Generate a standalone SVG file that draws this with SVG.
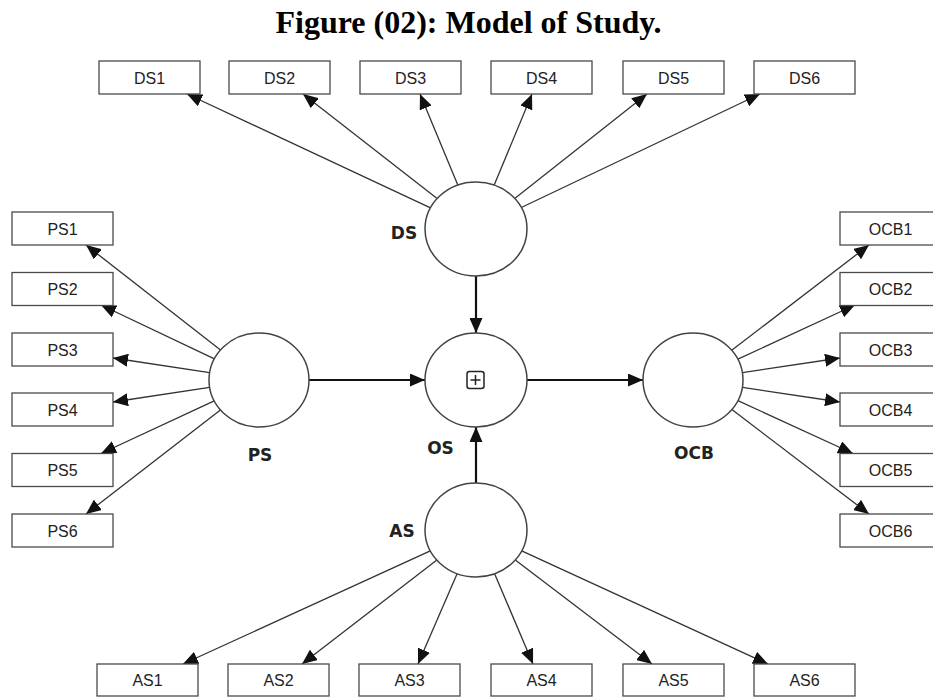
<svg xmlns="http://www.w3.org/2000/svg" width="933" height="697" viewBox="0 0 933 697">
<style>
.box{fill:#fff;stroke:#4a4a4a;stroke-width:1.3}
.bt{font-family:"Liberation Sans",Arial,sans-serif;font-size:16px;fill:#222;text-anchor:middle}
.lv{fill:#fff;stroke:#444;stroke-width:1.5}
.lt{font-family:"DejaVu Sans",sans-serif;font-weight:bold;font-size:17px;fill:#222;text-anchor:middle}
.ln{stroke:#333;stroke-width:1.3;fill:none;marker-end:url(#ah)}
.main{stroke:#111;stroke-width:2.2;fill:none;marker-end:url(#ah)}
</style>
<defs>
<marker id="ah" markerWidth="15" markerHeight="13" refX="15" refY="6.5" orient="auto" markerUnits="userSpaceOnUse"><path d="M0,0 L15,6.5 L0,13 z" fill="#111"/></marker>
</defs>
<rect width="933" height="697" fill="#fff"/>
<text x="468.5" y="33" font-family="Liberation Serif,'Times New Roman',serif" font-weight="bold" font-size="32" text-anchor="middle" fill="#000">Figure (02): Model of Study.</text>
<g id="connectors">
<line class="ln" x1="430.5" y1="207.8" x2="187" y2="94"/>
<line class="ln" x1="437.1" y1="198.6" x2="303" y2="94"/>
<line class="ln" x1="457.8" y1="185.1" x2="420" y2="94"/>
<line class="ln" x1="494.2" y1="185.1" x2="532" y2="94"/>
<line class="ln" x1="514.7" y1="198.4" x2="647" y2="94"/>
<line class="ln" x1="521.3" y1="207.5" x2="760" y2="94"/>
<line class="ln" x1="430.3" y1="550.9" x2="183" y2="664"/>
<line class="ln" x1="436.9" y1="560.1" x2="302" y2="664"/>
<line class="ln" x1="457.1" y1="573.7" x2="418" y2="664"/>
<line class="ln" x1="494.6" y1="573.8" x2="533" y2="664"/>
<line class="ln" x1="515.3" y1="559.9" x2="652" y2="664"/>
<line class="ln" x1="521.7" y1="550.9" x2="768" y2="664"/>
<line class="ln" x1="220.5" y1="350" x2="86" y2="245"/>
<line class="ln" x1="214.4" y1="358.8" x2="101" y2="305"/>
<line class="ln" x1="209.6" y1="372.6" x2="113" y2="358"/>
<line class="ln" x1="209.6" y1="387.4" x2="113" y2="402"/>
<line class="ln" x1="214.2" y1="400.8" x2="101" y2="453.5"/>
<line class="ln" x1="220.4" y1="409.9" x2="86" y2="514"/>
<line class="ln" x1="731.7" y1="350.3" x2="869" y2="245"/>
<line class="ln" x1="737.9" y1="359.2" x2="855" y2="305"/>
<line class="ln" x1="742.4" y1="372.6" x2="840" y2="358"/>
<line class="ln" x1="742.4" y1="387.4" x2="840" y2="402"/>
<line class="ln" x1="737.9" y1="400.6" x2="853" y2="453.5"/>
<line class="ln" x1="731.9" y1="409.6" x2="869" y2="514"/>
<line class="main" x1="476" y1="276" x2="476" y2="333"/>
<line class="main" x1="309" y1="380" x2="425" y2="380"/>
<line class="main" x1="527" y1="380" x2="643" y2="380"/>
<line class="main" x1="476" y1="483" x2="476" y2="427"/>
</g>
<g id="DS"><ellipse class="lv" cx="476" cy="229" rx="51" ry="47"/><text class="lt" x="404" y="238.5">DS</text></g>
<g id="OS"><ellipse class="lv" cx="476" cy="380" rx="51" ry="47"/><rect x="467" y="371.5" width="17" height="17" rx="2.5" fill="none" stroke="#222" stroke-width="1.5"/><path d="M470.5 380H480.5M475.5 375V385" stroke="#222" stroke-width="1.5"/><text class="lt" x="440.5" y="453.5">OS</text></g>
<g id="PS"><ellipse class="lv" cx="259" cy="380" rx="50" ry="47"/><text class="lt" x="260" y="460.5">PS</text></g>
<g id="OCB"><ellipse class="lv" cx="693" cy="380" rx="50" ry="47"/><text class="lt" x="694" y="458.5">OCB</text></g>
<g id="AS"><ellipse class="lv" cx="476" cy="530" rx="51" ry="47"/><text class="lt" x="402" y="537">AS</text></g>
<g id="DS1"><rect class="box" x="99" y="61" width="101" height="33"/><text class="bt" x="149.5" y="83.5">DS1</text></g>
<g id="DS2"><rect class="box" x="229" y="61" width="101" height="33"/><text class="bt" x="279.5" y="83.5">DS2</text></g>
<g id="DS3"><rect class="box" x="360" y="61" width="101" height="33"/><text class="bt" x="410.5" y="83.5">DS3</text></g>
<g id="DS4"><rect class="box" x="491" y="61" width="101" height="33"/><text class="bt" x="541.5" y="83.5">DS4</text></g>
<g id="DS5"><rect class="box" x="623" y="61" width="101" height="33"/><text class="bt" x="673.5" y="83.5">DS5</text></g>
<g id="DS6"><rect class="box" x="754" y="61" width="101" height="33"/><text class="bt" x="804.5" y="83.5">DS6</text></g>
<g id="PS1"><rect class="box" x="12" y="212" width="101" height="33"/><text class="bt" x="62.5" y="234.5">PS1</text></g>
<g id="PS2"><rect class="box" x="12" y="272.5" width="101" height="33"/><text class="bt" x="62.5" y="295">PS2</text></g>
<g id="PS3"><rect class="box" x="12" y="333" width="101" height="33"/><text class="bt" x="62.5" y="355.5">PS3</text></g>
<g id="PS4"><rect class="box" x="12" y="393" width="101" height="33"/><text class="bt" x="62.5" y="415.5">PS4</text></g>
<g id="PS5"><rect class="box" x="12" y="453.5" width="101" height="33"/><text class="bt" x="62.5" y="476">PS5</text></g>
<g id="PS6"><rect class="box" x="12" y="514" width="101" height="33"/><text class="bt" x="62.5" y="536.5">PS6</text></g>
<g id="OCB1"><rect class="box" x="840" y="212" width="101" height="33"/><text class="bt" x="890.5" y="234.5">OCB1</text></g>
<g id="OCB2"><rect class="box" x="840" y="272.5" width="101" height="33"/><text class="bt" x="890.5" y="295">OCB2</text></g>
<g id="OCB3"><rect class="box" x="840" y="333" width="101" height="33"/><text class="bt" x="890.5" y="355.5">OCB3</text></g>
<g id="OCB4"><rect class="box" x="840" y="393" width="101" height="33"/><text class="bt" x="890.5" y="415.5">OCB4</text></g>
<g id="OCB5"><rect class="box" x="840" y="453.5" width="101" height="33"/><text class="bt" x="890.5" y="476">OCB5</text></g>
<g id="OCB6"><rect class="box" x="840" y="514" width="101" height="33"/><text class="bt" x="890.5" y="536.5">OCB6</text></g>
<g id="AS1"><rect class="box" x="97" y="664" width="101" height="32"/><text class="bt" x="147.5" y="686">AS1</text></g>
<g id="AS2"><rect class="box" x="228" y="664" width="101" height="32"/><text class="bt" x="278.5" y="686">AS2</text></g>
<g id="AS3"><rect class="box" x="359" y="664" width="101" height="32"/><text class="bt" x="409.5" y="686">AS3</text></g>
<g id="AS4"><rect class="box" x="491" y="664" width="101" height="32"/><text class="bt" x="541.5" y="686">AS4</text></g>
<g id="AS5"><rect class="box" x="623" y="664" width="101" height="32"/><text class="bt" x="673.5" y="686">AS5</text></g>
<g id="AS6"><rect class="box" x="754" y="664" width="101" height="32"/><text class="bt" x="804.5" y="686">AS6</text></g>
</svg>
